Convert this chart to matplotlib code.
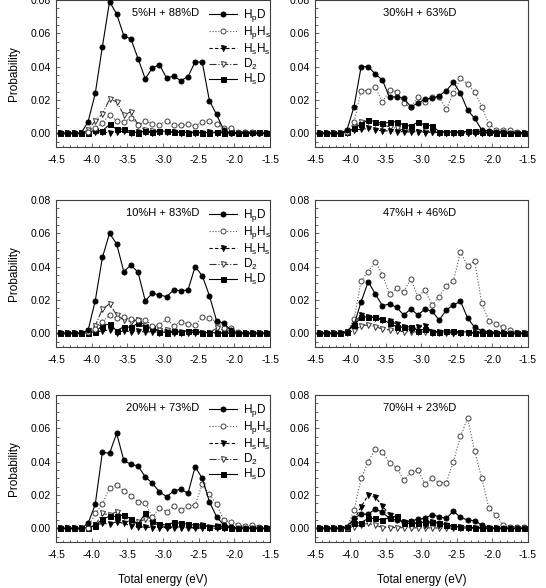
import matplotlib
matplotlib.use("Agg")
import matplotlib.pyplot as plt
from matplotlib.ticker import MultipleLocator

plt.rcParams["font.family"] = ["Liberation Sans", "DejaVu Sans"]
plt.rcParams["mathtext.default"] = "regular"

# bin centres of the total energy (eV)
energy = [-4.45, -4.35, -4.25, -4.15, -4.05, -3.95, -3.85, -3.75, -3.65, -3.55,
          -3.45, -3.35, -3.25, -3.15, -3.05, -2.95, -2.85, -2.75, -2.65, -2.55,
          -2.45, -2.35, -2.25, -2.15, -2.05, -1.95, -1.85, -1.75, -1.65, -1.55]

series_labels = [r"H$_p$D", r"H$_p$H$_s$", r"H$_s$H$_s$", r"D$_2$", r"H$_s$D"]
panel_titles = ["5%H + 88%D", "30%H + 63%D", "10%H + 83%D",
                "47%H + 46%D", "20%H + 73%D", "70%H + 23%D"]

# --- 5%H + 88%D ---
hpd_05 = [0, 0, 0, 0, 0.007, 0.024, 0.052, 0.079, 0.0716, 0.0586, 0.0566, 0.0448, 0.0328, 0.0392, 0.0412,
          0.0332, 0.0344, 0.0316, 0.034, 0.043, 0.0426, 0.0196, 0.0114, 0.002, 0, 0, 0, 0, 0, 0]
hphs_05 = [0, 0, 0, 0, 0.001, 0.003, 0.0064, 0.011, 0.0076, 0.0066, 0.0094, 0.005, 0.0074, 0.0056, 0.005,
           0.0076, 0.005, 0.0048, 0.0054, 0.0046, 0.0066, 0.0076, 0.0054, 0.003, 0.003, 0.001, 0.0008, 0.0006, 0.0005, 0]
hshs_05 = [0, 0, 0, 0, 0.0005, 0.001, 0.0008, 0.0003, 0.001, 0.0012, 0.0004, 0.001, 0.0008, 0.0005, 0.001,
           0.0006, 0.0008, 0.0004, 0.0005, 0.0003, 0.0004, 0.0006, 0.0005, 0.0003, 0.0002, 0.0004, 0.0003, 0.0002, 0.0003, 0.0001]
d2_05 = [0, 0, 0, 0, 0.002, 0.0076, 0.0116, 0.0204, 0.019, 0.011, 0.013, 0.005, 0.002, 0.0015, 0.001,
         0.001, 0.0008, 0.0005, 0.0005, 0.0004, 0.0005, 0.0004, 0.0003, 0.0008, 0.0006, 0.0003, 0.0002, 0.0002, 0.0001, 0]
hsd_05 = [0, 0, 0, 0, 0.0005, 0.002, 0.0015, 0.0054, 0.0025, 0.0025, 0.001, 0.0005, 0.0015, 0.001, 0.0015,
          0.0012, 0.001, 0.0008, 0.0005, 0.0008, 0.0005, 0.0005, 0.0008, 0.0005, 0.0006, 0.0004, 0.0005, 0.0008, 0.0008, 0.0003]

# --- 30%H + 63%D ---
hpd_30 = [0, 0, 0, 0, 0.002, 0.016, 0.040, 0.040, 0.0356, 0.032, 0.0216, 0.022, 0.021, 0.016, 0.018,
          0.0206, 0.021, 0.0226, 0.0256, 0.0306, 0.024, 0.014, 0.009, 0.002, 0.0015, 0.001, 0.0008, 0.0005, 0.0005, 0.0003]
hphs_30 = [0, 0, 0, 0, 0.001, 0.0066, 0.0256, 0.0256, 0.028, 0.0186, 0.026, 0.025, 0.018, 0.0156, 0.0216,
           0.019, 0.022, 0.022, 0.0146, 0.024, 0.033, 0.0296, 0.025, 0.016, 0.0056, 0.0022, 0.002, 0.0018, 0.001, 0]
hshs_30 = [0, 0, 0, 0, 0.0005, 0.002, 0.0024, 0.003, 0.002, 0.0015, 0.0015, 0.001, 0.001, 0.0008, 0.001,
           0.0005, 0.0008, 0.0005, 0.0003, 0.0005, 0.0004, 0.0003, 0.0003, 0.0002, 0.0002, 0.0001, 0.0001, 0, 0, 0]
d2_30 = [0, 0, 0, 0, 0.001, 0.004, 0.007, 0.0075, 0.006, 0.005, 0.004, 0.003, 0.002, 0.002, 0.001,
         0.0008, 0.0008, 0.0005, 0.0005, 0.0003, 0.0003, 0.0002, 0.0002, 0.0001, 0, 0, 0, 0, 0, 0]
hsd_30 = [0, 0, 0, 0, 0.0008, 0.003, 0.0056, 0.008, 0.007, 0.006, 0.0066, 0.007, 0.005, 0.0045, 0.0066,
          0.005, 0.0046, 0.001, 0.001, 0.0008, 0.001, 0.0012, 0.0016, 0.001, 0.0006, 0.0005, 0.0003, 0.0002, 0.0001, 0]

# --- 10%H + 83%D ---
hpd_10 = [0, 0, 0, 0, 0.002, 0.0196, 0.0455, 0.060, 0.0536, 0.037, 0.041, 0.0366, 0.0196, 0.024, 0.023,
          0.022, 0.026, 0.0256, 0.026, 0.040, 0.0346, 0.0226, 0.0076, 0.006, 0.002, 0, 0, 0, 0, 0]
hphs_10 = [0, 0, 0, 0, 0.001, 0.0026, 0.007, 0.011, 0.009, 0.010, 0.0086, 0.008, 0.008, 0.0046, 0.005,
           0.0086, 0.0046, 0.007, 0.0056, 0.005, 0.010, 0.009, 0.007, 0.003, 0.003, 0.001, 0.0005, 0, 0, 0]
hshs_10 = [0, 0, 0, 0, 0.0005, 0.0008, 0.0015, 0.002, 0.0005, 0.0015, 0.001, 0.0012, 0.0008, 0.001, 0.0005,
           0.0008, 0.0005, 0.0004, 0.0003, 0.0005, 0.0003, 0.0002, 0.0002, 0.0001, 0.0001, 0, 0, 0, 0, 0]
d2_10 = [0, 0, 0, 0, 0.0015, 0.0046, 0.0146, 0.0176, 0.011, 0.008, 0.007, 0.008, 0.0046, 0.003, 0.002,
         0.002, 0.001, 0.001, 0.001, 0.0008, 0.0005, 0.0005, 0.003, 0.002, 0.001, 0.0005, 0, 0, 0, 0]
hsd_10 = [0, 0, 0, 0, 0.0005, 0.001, 0.0046, 0.0056, 0.0016, 0.004, 0.0036, 0.006, 0.0036, 0.003, 0.001,
          0.0005, 0.0016, 0.001, 0.0016, 0.0016, 0.0005, 0.0005, 0.0003, 0.0003, 0.0002, 0.0001, 0, 0, 0, 0]

# --- 47%H + 46%D ---
hpd_47 = [0, 0, 0, 0, 0.001, 0.005, 0.019, 0.031, 0.0236, 0.0166, 0.0176, 0.0156, 0.011, 0.0146, 0.011,
          0.0146, 0.0132, 0.008, 0.014, 0.017, 0.0192, 0.0092, 0.0036, 0.0016, 0.001, 0.0005, 0.0003, 0.0002, 0.0001, 0]
hphs_47 = [0, 0, 0, 0, 0.0006, 0.0086, 0.0316, 0.037, 0.043, 0.0352, 0.0236, 0.027, 0.025, 0.0326, 0.022,
           0.026, 0.0172, 0.022, 0.0286, 0.0316, 0.0486, 0.0406, 0.0432, 0.018, 0.0076, 0.0056, 0.0036, 0.002, 0.0005, 0]
hshs_47 = [0, 0, 0, 0, 0.001, 0.006, 0.011, 0.010, 0.009, 0.008, 0.0076, 0.0056, 0.0036, 0.002, 0.0036,
           0.0046, 0.001, 0.001, 0.0008, 0.0005, 0.0005, 0.0003, 0.0003, 0.0002, 0.0001, 0, 0, 0, 0, 0]
d2_47 = [0, 0, 0, 0, 0.0005, 0.0015, 0.0046, 0.005, 0.004, 0.0026, 0.002, 0.0016, 0.001, 0.001, 0.0008,
         0.0008, 0.0005, 0.0005, 0.0003, 0.0003, 0.0002, 0.0002, 0.0001, 0, 0, 0, 0, 0, 0, 0]
hsd_47 = [0, 0, 0, 0, 0.001, 0.005, 0.0096, 0.010, 0.0096, 0.0086, 0.006, 0.004, 0.0036, 0.004, 0.0016,
          0.0026, 0.001, 0.001, 0.0016, 0.0012, 0.001, 0.0008, 0.0005, 0.0003, 0.0002, 0.0001, 0, 0, 0, 0]

# --- 20%H + 73%D ---
hpd_20 = [0, 0, 0, 0, 0.003, 0.0145, 0.0457, 0.045, 0.057, 0.0408, 0.0384, 0.0374, 0.031, 0.027, 0.0219,
          0.019, 0.0225, 0.0235, 0.021, 0.037, 0.030, 0.016, 0.007, 0.002, 0.001, 0, 0, 0, 0, 0]
hphs_20 = [0, 0, 0, 0, 0.0005, 0.009, 0.0145, 0.0245, 0.026, 0.0225, 0.0195, 0.016, 0.0155, 0.0066, 0.0125,
           0.010, 0.0135, 0.011, 0.0135, 0.014, 0.0265, 0.0205, 0.0145, 0.005, 0.004, 0.002, 0.0015, 0.002, 0.001, 0]
hshs_20 = [0, 0, 0, 0, 0.0005, 0.002, 0.003, 0.0026, 0.004, 0.003, 0.0016, 0.001, 0.0008, 0.0005, 0.0005,
           0.0005, 0.0004, 0.0004, 0.0003, 0.0003, 0.0002, 0.0002, 0.0001, 0.0001, 0, 0, 0, 0, 0, 0]
d2_20 = [0, 0, 0, 0, 0.0005, 0.002, 0.009, 0.008, 0.010, 0.0075, 0.0026, 0.0036, 0.0055, 0.0036, 0.0016,
         0.001, 0.001, 0.0008, 0.0008, 0.0006, 0.002, 0.001, 0.0016, 0.0005, 0.0003, 0.0002, 0.0001, 0, 0, 0]
hsd_20 = [0, 0, 0, 0, 0.0005, 0.0016, 0.0056, 0.0072, 0.0072, 0.008, 0.0056, 0.0025, 0.009, 0.0046, 0.0026,
          0.002, 0.0036, 0.003, 0.0026, 0.002, 0.0022, 0.001, 0.0016, 0.0008, 0.0005, 0.0003, 0.0002, 0.0001, 0, 0]

# --- 70%H + 23%D ---
hpd_70 = [0, 0, 0, 0, 0.001, 0.006, 0.0086, 0.0086, 0.0116, 0.0096, 0.006, 0.005, 0.004, 0.0045, 0.0055,
          0.006, 0.0082, 0.007, 0.006, 0.0104, 0.0066, 0.005, 0.0046, 0.002, 0.0005, 0, 0, 0, 0, 0]
hphs_70 = [0, 0, 0, 0, 0.0005, 0.011, 0.030, 0.040, 0.0477, 0.0457, 0.0394, 0.0364, 0.029, 0.0338, 0.0348,
           0.0268, 0.030, 0.0274, 0.0274, 0.040, 0.0553, 0.066, 0.0463, 0.030, 0.012, 0.008, 0.002, 0.001, 0.001, 0.001]
hshs_70 = [0, 0, 0, 0, 0.0005, 0.005, 0.013, 0.020, 0.0186, 0.0136, 0.008, 0.006, 0.004, 0.004, 0.003,
           0.002, 0.004, 0.002, 0.002, 0.001, 0.0008, 0.0005, 0.0003, 0.0002, 0.0001, 0, 0, 0, 0, 0]
d2_70 = [0, 0, 0, 0, 0.0003, 0.001, 0.002, 0.003, 0.002, 0.0005, 0.0005, 0.0005, 0.0004, 0.0004, 0.0003,
         0.0003, 0.0003, 0.0002, 0.0002, 0.0002, 0.0001, 0.0001, 0, 0, 0, 0, 0, 0, 0, 0]
hsd_70 = [0, 0, 0, 0, 0.0005, 0.003, 0.0035, 0.006, 0.006, 0.005, 0.0065, 0.0075, 0.003, 0.003, 0.003,
          0.004, 0.004, 0.0035, 0.002, 0.0015, 0.001, 0.0008, 0.0005, 0.0003, 0.0002, 0, 0, 0, 0, 0]

panels = [
    [hpd_05, hphs_05, hshs_05, d2_05, hsd_05],
    [hpd_30, hphs_30, hshs_30, d2_30, hsd_30],
    [hpd_10, hphs_10, hshs_10, d2_10, hsd_10],
    [hpd_47, hphs_47, hshs_47, d2_47, hsd_47],
    [hpd_20, hphs_20, hshs_20, d2_20, hsd_20],
    [hpd_70, hphs_70, hshs_70, d2_70, hsd_70],
]

# marker / line style for each species (same order as series_labels)
styles = [
    dict(marker="o", mfc="black", ls="-", color="black", zorder=6),
    dict(marker="o", mfc="white", ls=":", color="0.35", mec="0.25", zorder=5),
    dict(marker="v", mfc="black", ls=(0, (3, 2)), color="black", zorder=4),
    dict(marker="v", mfc="white", ls="-.", color="0.2", mec="0.2", zorder=3),
    dict(marker="s", mfc="black", ls="-", color="black", zorder=4),
]

fig = plt.figure(figsize=(5.46, 5.88), dpi=100)
col_left = [0.1026, 0.5769]
col_width = [0.392, 0.390]
row_bottom = [0.7505, 0.4104, 0.0787]
row_height = 0.2495

for k, (data, title) in enumerate(zip(panels, panel_titles)):
    row, col = divmod(k, 2)
    ax = fig.add_axes([col_left[col], row_bottom[row], col_width[col], row_height])
    for vals, lab, st in zip(data, series_labels, styles):
        ax.plot(energy, vals, label=lab, lw=0.8, ms=3.6, mew=0.7, **st)
    ax.set_xlim(-4.5, -1.5)
    ax.set_ylim(-0.008, 0.08)
    ax.xaxis.set_major_locator(MultipleLocator(0.5))
    ax.xaxis.set_minor_locator(MultipleLocator(0.1))
    ax.yaxis.set_major_locator(MultipleLocator(0.02))
    ax.yaxis.set_minor_locator(MultipleLocator(0.005))
    ax.yaxis.set_major_formatter(plt.FormatStrFormatter("%.2f"))
    ax.xaxis.set_major_formatter(plt.FormatStrFormatter("%.1f"))
    ax.tick_params(which="both", direction="in", labelsize=7.5, width=0.6, color="0.3")
    ax.tick_params(which="major", length=3)
    ax.tick_params(which="minor", length=1.8)
    ax.tick_params(axis="x", pad=6)
    for sp in ax.spines.values():
        sp.set_linewidth(0.8)
        sp.set_color("0.25")
    if col == 0:
        ax.text(0.67, 0.91, title, transform=ax.transAxes, ha="right", va="center", fontsize=8)
        ax.set_ylabel("Probability", fontsize=8.5, labelpad=8)
        ax.legend(loc="upper left", bbox_to_anchor=(0.68, 1.0), frameon=False, fontsize=8.5,
                  handlelength=2.4, handletextpad=0.5, labelspacing=0.02, borderaxespad=0.2)
    else:
        ax.text(0.49, 0.91, title, transform=ax.transAxes, ha="center", va="center", fontsize=8)
    if row == 2:
        ax.set_xlabel("Total energy (eV)", fontsize=8.5, labelpad=10)

fig.savefig("out.png", dpi=100)
